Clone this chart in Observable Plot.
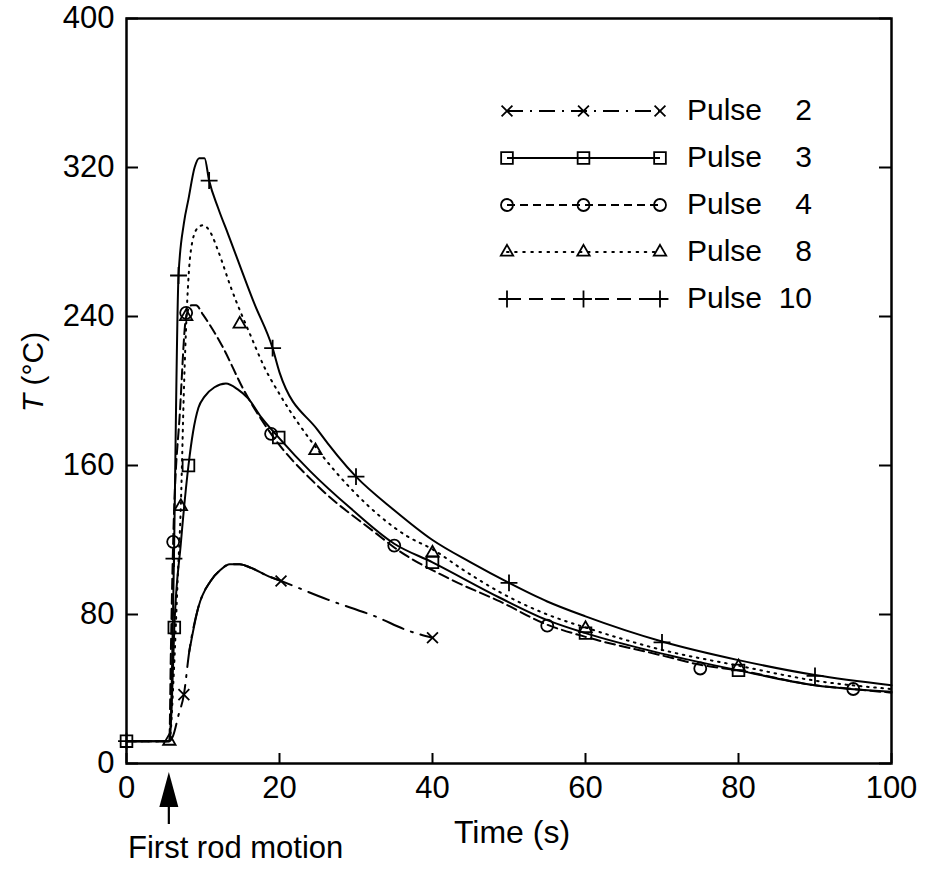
<!DOCTYPE html>
<html>
<head>
<meta charset="utf-8">
<script src="https://cdn.jsdelivr.net/npm/d3@7"></script>
<script src="https://cdn.jsdelivr.net/npm/@observablehq/plot@0.6"></script>
<style>
  html, body { margin: 0; padding: 0; background: #fff; }
  #chart { width: 930px; height: 870px; }
</style>
</head>
<body>
<div id="chart"></div>
<script>
// ---------- data (time in s, temperature in °C) ----------
const xTicks = [0, 20, 40, 60, 80, 100];
const yTicks = [0, 80, 160, 240, 320, 400];
const pulseNames = ["2", "3", "4", "8", "10"];
const firstRodMotion = 5.6;

const pulse2 = [[0,12],[5.6,12],[6.1,15],[6.8,26],[7.5,37],[8.2,60],[9.4,84],[11,98],[12.3,104],[13.5,107],[14.8,107],[16.3,105],[18.3,101],[20.2,98],[26.3,88],[32.8,78.5],[36.7,71.5],[40,67.5]];
const pulse3 = [[0,12],[5.6,12],[5.9,30],[6.25,73],[7.1,118],[8.1,160],[8.7,178],[9.4,191],[10.2,197],[11.5,202],[13,204],[14.5,201],[15.9,196],[17.6,186],[19.9,175],[24,157],[29.3,137],[35,118],[40,108],[48.8,89],[55,77],[60,70],[70,59],[80,50],[90,42],[100,38.5]];
const pulse4 = [[0,12],[5.6,12],[5.8,60],[6.1,119],[7,190],[7.8,240],[8.5,246],[9.1,246],[10,241],[12.4,225],[15.4,200],[18.9,177],[25,149],[32.8,123],[35,116],[42.3,99],[48.8,87],[55,74.5],[60,68],[70,58],[75,53],[80,50],[90,42],[95,40],[100,38]];
const pulse8 = [[0,12],[5.6,12],[6.2,50],[6.7,100],[7.1,138],[7.5,200],[7.9,245],[8.4,275],[9.2,287],[10,289],[11,285],[12,275],[13.7,255],[16.3,229],[18,213],[20.2,197],[24.7,170],[29.7,146],[36.7,122],[40,115],[44,104],[48.8,92],[55,80],[60,73],[70,61],[80,52.5],[90,44.5],[100,40]];
const pulse10 = [[0,12],[5.6,12],[5.9,40],[6.2,110],[6.8,262],[7.5,290],[8.1,303],[8.9,320],[9.5,325],[10.2,325],[10.8,313],[12,298],[13.3,284],[16.7,247],[19.1,223],[20,210],[25,179],[30,154],[35,136],[40,120],[45,108],[50,97],[55,87],[60,79],[70,65.5],[80,55.5],[90,47.5],[100,42]];

const marks2 = [[7.5,37],[20.2,98],[40,67.5]];
const marks3 = [[0,12],[6.25,73],[8.1,160],[19.9,175],[40,108],[60,70],[80,50]];
const marks4 = [[6.1,119],[7.8,242],[18.9,177],[35,117],[55,74],[75,51],[95,40]];
const marks8 = [[5.6,12],[7.1,138],[7.8,240],[14.8,236],[24.7,168],[40,113],[60,72.5],[80,52]];
const marks10 = [[0,12],[6.2,110],[6.8,262],[10.8,313],[19.1,223],[30,154],[50,97],[70,65],[90,47]];

// ---------- styles ----------
const FONT = "'Liberation Sans', Arial, Helvetica, sans-serif";
const W = 930, H = 870;
const M = {left: 126, right: 39, top: 18, bottom: 107};
const plotW = W - M.left - M.right, plotH = H - M.top - M.bottom;
const LW = 2;
const dash = {p2: "22,8,2,8", p4: "10,5", p8: "1.6,5.6", p10leg: "14,8"};
const sym = {
  p2: {name: "times", d3: d3.symbolTimes, r: 5},
  p3: {name: "square", d3: d3.symbolSquare, r: 6.6},
  p4: {name: "circle", d3: d3.symbolCircle, r: 6},
  p8: {name: "triangle", d3: d3.symbolTriangle, r: 4.6},
  p10: {name: "plus", d3: d3.symbolPlus, r: 5.5}
};
const X = d => d[0], Y = d => d[1];
const lineOpts = extra => ({x: X, y: Y, curve: "monotone-x", stroke: "black", strokeWidth: LW, ...extra});
const dotOpts = s => ({x: X, y: Y, symbol: s.name, r: s.r, stroke: "black", fill: "none", strokeWidth: 1.8});

const plot = Plot.plot({
  width: W, height: H,
  marginLeft: M.left, marginRight: M.right, marginTop: M.top, marginBottom: M.bottom,
  style: {fontFamily: FONT, background: "white", color: "black", overflow: "visible"},
  x: {domain: [0, 100]},
  y: {domain: [0, 400]},
  marks: [
    Plot.axisX({ticks: xTicks, tickSize: 0, tickPadding: 12, fontSize: 31, label: null}),
    Plot.axisY({ticks: yTicks, tickSize: 0, tickPadding: 12, fontSize: 31, label: null}),
    Plot.tickX(xTicks, {x: d => d, insetTop: plotH - 10, stroke: "black", strokeWidth: 2}),
    Plot.tickY(yTicks, {y: d => d, insetRight: plotW - 12, stroke: "black", strokeWidth: 2}),
    Plot.tickY(yTicks, {y: d => d, insetLeft: plotW - 12, stroke: "black", strokeWidth: 2}),
    Plot.frame({stroke: "black", strokeWidth: 2.5}),
    // curves
    Plot.line(pulse2, lineOpts({strokeDasharray: dash.p2})),
    Plot.line(pulse2.filter(d => d[0] >= 8.2 && d[0] <= 20.2), lineOpts({})),
    Plot.line(pulse3, lineOpts({})),
    Plot.line(pulse4, lineOpts({strokeDasharray: dash.p4})),
    Plot.line(pulse8, lineOpts({strokeDasharray: dash.p8, strokeLinecap: "round"})),
    Plot.line(pulse10, lineOpts({})),
    // markers
    Plot.dot(marks2, dotOpts(sym.p2)),
    Plot.dot(marks3, dotOpts(sym.p3)),
    Plot.dot(marks4, dotOpts(sym.p4)),
    Plot.dot(marks8, dotOpts(sym.p8)),
    Plot.dot(marks10, dotOpts(sym.p10))
  ]
});

const svg = d3.select(plot);
const xs = plot.scale("x");

// legend
const legendStyle = [
  {s: sym.p2, dash: "16,7,2,7"},
  {s: sym.p3, dash: null},
  {s: sym.p4, dash: "8,5"},
  {s: sym.p8, dash: "1.6,6.5"},
  {s: sym.p10, dash: dash.p10leg}
];
const lg = svg.append("g").attr("font-family", FONT).attr("font-size", 30).attr("text-anchor", "start");
const lx0 = 507, lx1 = 660, ly0 = 111, ldy = 47;
pulseNames.forEach((name, i) => {
  const y = ly0 + i * ldy, st = legendStyle[i];
  lg.append("line").attr("x1", lx0).attr("x2", lx1).attr("y1", y).attr("y2", y)
    .attr("stroke", "black").attr("stroke-width", LW)
    .attr("stroke-dasharray", st.dash).attr("stroke-linecap", st.dash && st.dash.startsWith("1.6") ? "round" : null);
  [lx0, (lx0 + lx1) / 2, lx1].forEach(x => {
    lg.append("path").attr("transform", `translate(${x},${y})`)
      .attr("d", d3.symbol(st.s.d3, Math.PI * st.s.r * st.s.r)())
      .attr("fill", "none").attr("stroke", "black").attr("stroke-width", 1.8);
  });
  lg.append("text").attr("x", 687).attr("y", y + 9).attr("text-anchor", "start").text("Pulse");
  lg.append("text").attr("x", 812).attr("y", y + 9).attr("text-anchor", "end").text(name);
});

// axis titles
svg.append("text").attr("x", 512).attr("y", 843).attr("text-anchor", "middle")
  .attr("font-family", FONT).attr("font-size", 32).text("Time (s)");
const yl = svg.append("text").attr("transform", "translate(43,372) rotate(-90)")
  .attr("text-anchor", "middle").attr("font-family", FONT).attr("font-size", 30);
yl.append("tspan").attr("font-style", "italic").text("T");
yl.append("tspan").text(" (°C)");

// first rod motion annotation
const ax = xs.apply(firstRodMotion);
svg.append("path").attr("d", `M${ax},772 L${ax - 9.5},807 L${ax + 9.5},807 Z`).attr("fill", "black");
svg.append("line").attr("x1", ax).attr("x2", ax).attr("y1", 800).attr("y2", 824)
  .attr("stroke", "black").attr("stroke-width", 2.2);
svg.append("text").attr("x", 128).attr("y", 858).attr("text-anchor", "start")
  .attr("font-family", FONT).attr("font-size", 31).text("First rod motion");

document.getElementById("chart").appendChild(plot);
</script>
</body>
</html>
